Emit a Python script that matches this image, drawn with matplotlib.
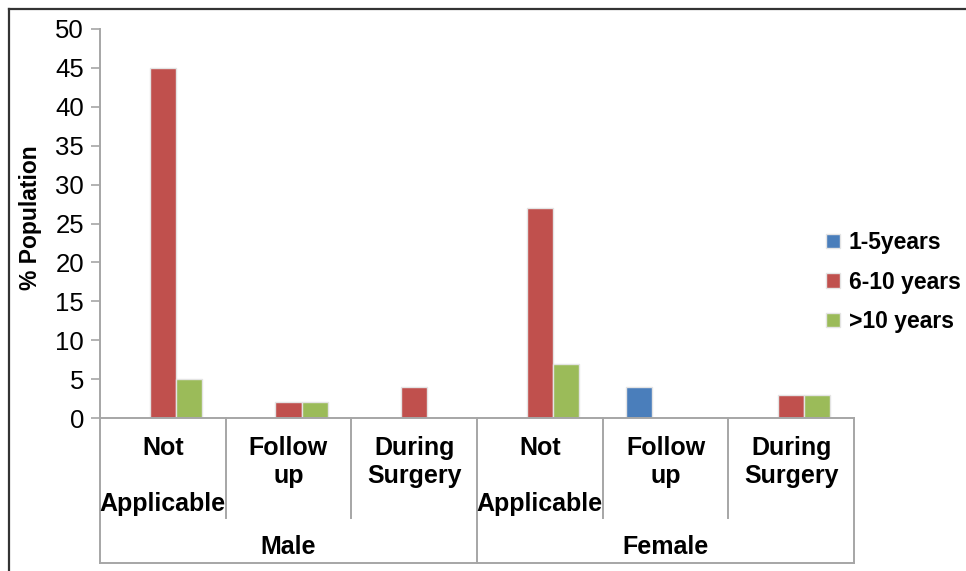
import matplotlib
matplotlib.use("Agg")
import matplotlib.pyplot as plt
from matplotlib.lines import Line2D
from matplotlib.transforms import blended_transform_factory
import numpy as np

# Data
genders = ["Male", "Female"]
stages = ["Not\n\nApplicable", "Follow\nup", "During\nSurgery"]
series_names = ["1-5years", "6-10 years", ">10 years"]
age_1_5 = [0, 0, 0, 0, 4, 0]
age_6_10 = [45, 2, 4, 27, 0, 3]
age_over_10 = [5, 2, 0, 7, 0, 3]
y_ticks = [0, 5, 10, 15, 20, 25, 30, 35, 40, 45, 50]

colors = ["#4a7ebb", "#c0504d", "#9bbb59"]
axis_grey = "#a6a6a6"

plt.rcParams["font.family"] = ["Liberation Sans", "DejaVu Sans"]

W, H = 966, 571
fig = plt.figure(figsize=(W / 100, H / 100), dpi=100)


def fy(py):
    return 1 - py / H


ax = fig.add_axes([100 / W, fy(418), 754 / W, (418 - 29) / H])

n_cat = len(genders) * len(stages)
x = np.arange(n_cat)
bw = 0.207
for k, (vals, name) in enumerate(zip([age_1_5, age_6_10, age_over_10], series_names)):
    ax.bar(x + (k - 1) * bw, vals, width=bw, color=colors[k], label=name,
           edgecolor="#e4e4e4", linewidth=1.0)

ax.set_xlim(-0.5, n_cat - 0.5)
ax.set_ylim(0, 50)
ax.set_yticks(y_ticks)
ax.tick_params(axis="y", direction="out", length=6.5, width=1.2, color=axis_grey,
               labelsize=18.5, pad=5)
ax.set_xticks([])
for s in ["top", "right"]:
    ax.spines[s].set_visible(False)
for s in ["left", "bottom"]:
    ax.spines[s].set_color(axis_grey)
    ax.spines[s].set_linewidth(1.4)

# Multi-level category axis
trans = blended_transform_factory(ax.transData, fig.transFigure)
for i in range(n_cat):
    lab = stages[i % len(stages)]
    cy = 476 if lab.count("\n") == 2 else 462
    ax.text(i, fy(cy), lab, transform=trans, ha="center", va="center",
            fontsize=18, fontweight="bold", linespacing=1.22, clip_on=False)

for b in [0.5, 1.5, 3.5, 4.5]:
    ax.add_line(Line2D([b, b], [fy(418), fy(518)], transform=trans, color=axis_grey,
                       lw=1.4, clip_on=False))
for b in [-0.5, 2.5, 5.5]:
    ax.add_line(Line2D([b, b], [fy(418), fy(563)], transform=trans, color=axis_grey,
                       lw=1.4, clip_on=False))
ax.add_line(Line2D([-0.5, 5.5], [fy(563), fy(563)], transform=trans, color=axis_grey,
                   lw=1.4, clip_on=False))

for g, name in enumerate(genders):
    ax.text(g * 3 + 1, fy(547), name, transform=trans, ha="center", va="center",
            fontsize=18, fontweight="bold", clip_on=False)

fig.text(30 / W, fy(218), "% Population", rotation=90, ha="center", va="center",
         fontsize=16.5, fontweight="bold")

leg = ax.legend(loc="center left", bbox_to_anchor=(826 / W, fy(282)),
                bbox_transform=fig.transFigure, frameon=False,
                prop={"size": 16.5, "weight": "bold"}, handlelength=0.6,
                handleheight=0.6, handletextpad=0.4, labelspacing=0.72,
                borderpad=0, borderaxespad=0)

# Outer frame (left and top edges)
fig.add_artist(Line2D([9 / W, 9 / W], [0, fy(9)], transform=fig.transFigure,
                      color="#333333", lw=1.6))
fig.add_artist(Line2D([9 / W, 1], [fy(9), fy(9)], transform=fig.transFigure,
                      color="#333333", lw=1.6))

fig.savefig("out.png", dpi=100)
